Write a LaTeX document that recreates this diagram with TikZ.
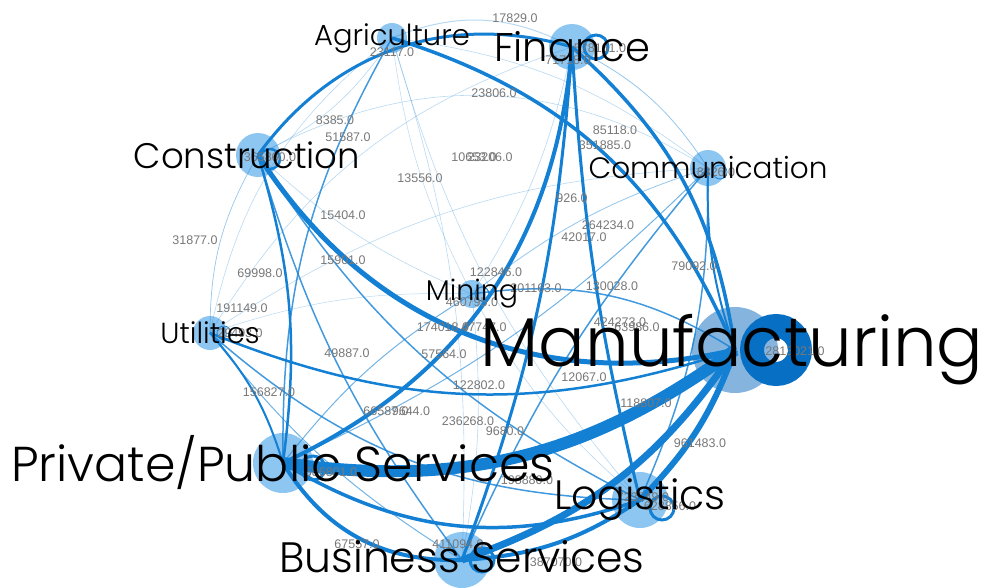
\documentclass[tikz,border=0pt]{standalone}
\usepackage{fontspec}
\setmainfont{Liberation Sans}
\newfontfamily\lblfont{Poppins}[UprightFont=* Light]
\usetikzlibrary{positioning}
\definecolor{edgeblue}{RGB}{20,128,212}
\definecolor{nodeblue}{RGB}{122,188,240}
\definecolor{mangray}{RGB}{112,168,216}
\definecolor{loopblue}{RGB}{8,112,196}
\definecolor{numgray}{RGB}{120,120,120}

\begin{document}
\begin{tikzpicture}[x=1pt,y=-1pt,
  vertex/.style={circle,fill=nodeblue,fill opacity=.85,inner sep=0pt,minimum size=#1},
  link/.style={draw=edgeblue,line width=#1},
  lbl/.style={font=\lblfont\fontsize{#1}{#1}\selectfont,inner sep=0pt},
  num/.style={font=\fontsize{12.5}{12.5}\selectfont,text=numgray,inner sep=0pt}]
  \useasboundingbox (0,0) rectangle (984,587);

  % Simpul
  \node[vertex=30pt] (agr) at (392,38) {};
  \node[vertex=46pt] (fin) at (572,47) {};
  \node[vertex=44pt] (con) at (258,155) {};
  \node[vertex=36pt] (com) at (708,168) {};
  \node[vertex=28pt] (min) at (472,294) {};
  \node[vertex=34pt] (uti) at (210,333) {};
  \node[vertex=86pt,fill=mangray] (man) at (735,350) {};
  \node[vertex=60pt] (pps) at (283,463) {};
  \node[vertex=56pt] (log) at (640,500) {};
  \node[vertex=56pt] (bus) at (462,560) {};

  % Sisi
  \foreach \a/\b/\w/\bd/\op in {
    agr/fin/1/25/.3, con/fin/3/35/1, agr/con/.6/15/.3, agr/man/3.5/25/1,
    fin/man/3.5/20/1, fin/pps/4/30/1, fin/bus/3/8/1, fin/log/3/-5/1,
    fin/com/.8/15/.45, fin/uti/.6/-20/.3, fin/min/.6/10/.3,
    con/man/5/-35/1, con/pps/2.5/12/1, con/bus/1.5/-10/.8, con/log/1.5/-15/.8,
    con/uti/.7/-15/.45, con/com/.6/30/.3, con/min/.6/-10/.3,
    pps/man/12/-22/1, bus/man/7/-18/1, log/man/6/-12/1,
    pps/bus/4/-30/1, pps/log/3.5/-25/1, bus/log/4/-15/1,
    uti/man/2.5/-20/1, uti/pps/2/12/1, uti/bus/1/-10/.6, uti/log/1.5/-20/.8,
    uti/com/.6/15/.3, uti/min/.5/10/.3, uti/agr/.6/20/.3,
    com/man/2/-10/1, com/pps/1/10/.6, com/bus/1.5/-8/.8, com/log/1.5/12/.8,
    com/min/.8/-10/.45, com/agr/.6/-15/.3,
    min/man/1.5/20/.8, min/pps/1/-10/.6, min/bus/.6/8/.3, min/log/.6/-10/.3,
    min/agr/.5/10/.3, agr/pps/1.5/-15/.8, agr/bus/.6/10/.3, agr/log/.6/-12/.3}
    \draw[link=\w pt,draw opacity=\op] (\a.center) to[bend left=\bd] (\b.center);

  % Loop
  \draw[link=3pt] ([xshift=24pt]fin.center) circle (12pt);
  \draw[link=2.5pt] ([xshift=12pt,yshift=-4pt]con.center) circle (10pt);
  \draw[link=.8pt] ([xshift=12pt,yshift=-4pt]com.center) circle (7pt);
  \draw[link=.8pt] ([xshift=14pt]uti.center) circle (7pt);
  \draw[link=1pt] ([xshift=10pt]min.center) circle (7pt);
  \draw[link=3pt] ([xshift=30pt,yshift=-5pt]pps.center) circle (12pt);
  \draw[link=3pt] ([xshift=22pt,yshift=-8pt]log.center) circle (12pt);
  \draw[link=3pt] ([xshift=20pt]bus.center) circle (12pt);
  \draw[draw=loopblue,line width=24pt] ([xshift=41pt]man.center) circle (24pt);

  % Angka sisi
  \foreach \t/\x/\y in {17829.0/515/18, 23117.0/392/52, 23806.0/494/93,
    8385.0/335/120, 51587.0/348/137, 10653.0/474/157, 23206.0/490/157,
    13556.0/420/178, 85118.0/615/130, 351885.0/605/145, 926.0/572/198,
    264234.0/608/225, 42017.0/584/237, 15404.0/343/215, 15901.0/343/260,
    31877.0/195/240, 69998.0/260/273, 122846.0/496/272, 201163.0/536/288,
    130028.0/612/286, 79092.0/694/266, 191149.0/242/308, 174018.0/443/327,
    47747.0/484/327, 424273.0/620/322, 63986.0/637/327, 49887.0/347/353,
    57564.0/444/354, 12067.0/584/377, 122802.0/479/385, 156827.0/269/392,
    66587.0/386/411, 9644.0/411/411, 118807.0/646/403, 236268.0/468/421,
    9680.0/505/431, 961483.0/700/443, 586801.0/331/472, 628856.0/670/506,
    67557.0/357/544, 411094.0/458/544, 387070.0/556/562, 2813021.0/795/351,
    578161.0/600/48, 71718.0/568/60, 8826.0/716/172, 365860.0/270/157,
    29493.0/240/333, 460795.0/472/302, 723549.0/643/497, 198880.0/527/480}
    \node[num] at (\x,\y) {\t};

  % Label simpul
  \node[lbl=29pt] at (agr) {Agriculture};
  \node[lbl=40pt] at (fin) {Finance};
  \node[lbl=35.5pt] at ([xshift=-11pt]con.center) {Construction};
  \node[lbl=29.5pt] at (com) {Communication};
  \node[lbl=28.5pt] at (min) {Mining};
  \node[lbl=29pt] at (uti) {Utilities};
  \node[lbl=69pt] at ([xshift=-3pt]man.center) {Manufacturing};
  \node[lbl=49pt] at (pps) {Private/Public Services};
  \node[lbl=41pt] at (log) {Logistics};
  \node[lbl=42.5pt] at ([yshift=3pt]bus.center) {Business Services};
\end{tikzpicture}
\end{document}
